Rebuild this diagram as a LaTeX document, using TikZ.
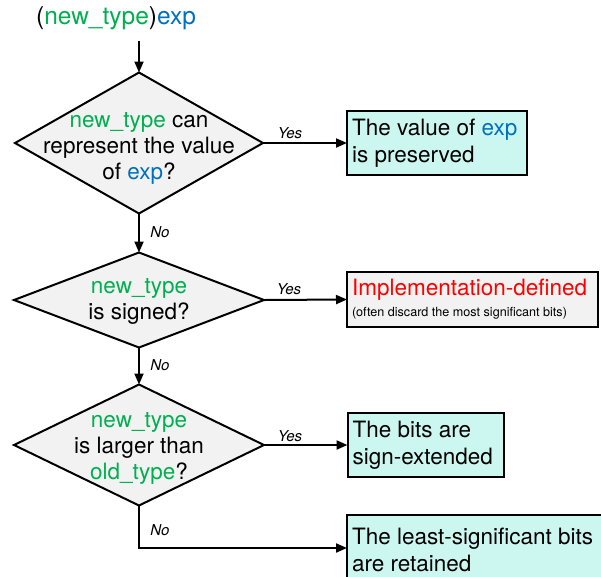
\documentclass[tikz,border=0pt]{standalone}
\usepackage{fontspec}
\setmainfont{TeX Gyre Heros}
\usetikzlibrary{shapes.geometric,arrows.meta}
\definecolor{tgreen}{RGB}{0,176,80}
\definecolor{tblue}{RGB}{0,112,192}
\definecolor{tred}{RGB}{255,0,0}
\definecolor{rcyan}{RGB}{204,247,240}
\definecolor{dgray}{RGB}{242,242,242}
\newcommand{\natsp}{\spaceskip=0pt\xspaceskip=0pt\relax}
\begin{document}
\begin{tikzpicture}[x=1pt,y=-1pt,
  decision/.style={diamond, draw, line width=2pt, fill=dgray, inner sep=0pt, outer sep=0pt},
  dtext/.style={align=center, inner sep=0pt, font=\fontsize{22.5}{26}\selectfont},
  result/.style={draw, line width=2pt, align=left, inner xsep=5pt, outer sep=0pt, font=\fontsize{22.5}{27}\selectfont},
  conn/.style={line width=2pt, -{Triangle[length=11pt,width=9pt]}},
  lab/.style={inner sep=0pt, font=\fontsize{15}{18}\selectfont\itshape}]
\useasboundingbox (0,0) rectangle (601,576);
\clip (0,0) rectangle (601,576);

% title
\node[inner sep=0pt, font=\fontsize{24.5}{28}\selectfont] (title) at (116,18)
  {(\textcolor{tgreen}{new\_type})\textcolor{tblue}{exp}};
\coordinate (s0) at (139,41);

% decisions
\node[decision, minimum width=248pt, minimum height=141pt] (d1) at (139,143) {};
\node[dtext] (d1t) at (139,148) {\natsp\textcolor{tgreen}{new\_type} can\\represent the value\\of \textcolor{tblue}{exp}?};

\node[decision, minimum width=250pt, minimum height=95pt] (d2) at (139,300) {};
\node[dtext] (d2t) at (139,301) {\natsp\textcolor{tgreen}{new\_type}\\is signed?};

\node[decision, minimum width=250pt, minimum height=121pt] (d3) at (139,445) {};
\node[dtext] (d3t) at (139,448) {\natsp\textcolor{tgreen}{new\_type}\\is larger than\\\textcolor{tgreen}{old\_type}?};

% results
\node[result, fill=rcyan, text width=170pt, minimum height=64pt] (b1) at (437,143)
  {\natsp The value of \textcolor{tblue}{exp}\\is preserved};
\node[result, fill=dgray, text width=241pt, minimum height=55pt] (b2) at (472.5,299.5)
  {\textcolor{tred}{Implementation-defined}\\[-6pt]\hbox{\fontsize{12.6}{14}\selectfont\natsp (often discard the most significant bits)}};
\node[result, fill=rcyan, text width=146pt, minimum height=64pt] (b3) at (425.5,445)
  {\natsp The bits are\\sign-extended};
\node[result, fill=rcyan, text width=280pt, inner ysep=13.5pt, anchor=north west] (b4) at (347,515)
  {\natsp The least-significant bits\\are retained};

% connectors
\draw[conn] (s0) -- (d1.north);
\draw[conn] (d1.east) -- (b1.west);
\draw[conn] (d1.south) -- (d2.north);
\draw[conn] (d2.east) -- (b2.west);
\draw[conn] (d2.south) -- (d3.north);
\draw[conn] (d3.east) -- (b3.west);
\coordinate (n3) at (139,548);
\draw[conn] (d3.south) -- (n3) -- (n3 -| b4.west);

% labels
\node[lab] (y1) at (290,133) {Yes};
\node[lab] (y2) at (289,289) {Yes};
\node[lab] (y3) at (290,436) {Yes};
\node[lab] (no1) at (160,232) {No};
\node[lab] (no2) at (160,365) {No};
\node[lab] (no3) at (160,530) {No};
\end{tikzpicture}
\end{document}
